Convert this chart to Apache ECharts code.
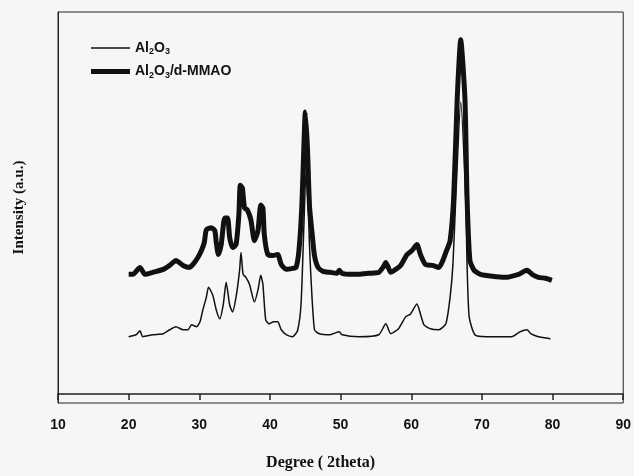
<!DOCTYPE html>
<html>
<head>
<meta charset="utf-8">
<script src="https://cdn.jsdelivr.net/npm/echarts@6/dist/echarts.min.js"></script>
<style>
  html, body { margin: 0; padding: 0; background: #f6f6f6; }
  #box { width: 634px; height: 476px; }
</style>
</head>
<body>
<div id="box"></div>
<script>
// 2theta (degree), intensity (a.u.)
let al2o3 = [
  [20.0,58],[21.1,60],[21.6,64],[22.0,58],[23.4,60],[24.9,61],[25.8,65],[26.7,68],[27.7,65],[28.4,65],
  [28.9,70],[29.6,68],[30.1,73],[30.5,85],[31.0,98],[31.3,108],[31.9,100],[32.4,85],[32.9,76],[33.4,91],
  [33.8,113],[34.3,90],[34.7,83],[35.2,98],[35.7,125],[35.9,143],[36.2,121],[36.6,118],[37.1,111],[37.8,93],
  [38.3,105],[38.7,120],[39.0,111],[39.4,75],[39.9,71],[40.5,73],[41.1,73],[41.6,65],[42.3,60],[43.2,58],
  [43.9,64],[44.4,91],[44.8,170],[45.1,225],[45.4,190],[45.6,150],[45.8,118],[46.3,65],[47.0,61],[48.5,60],
  [49.8,63],[50.2,60],[52.6,58],[55.4,60],[56.4,71],[57.1,61],[58.2,66],[59.2,78],[59.9,81],[60.8,91],
  [61.3,81],[61.8,70],[62.7,66],[63.9,65],[64.9,71],[65.5,98],[65.9,131],[66.3,198],[67.0,295],[67.7,198],
  [67.9,131],[68.2,78],[69.0,60],[70.6,58],[74.2,58],[75.4,63],[76.4,65],[76.9,61],[78.0,58],[79.7,56]
];
let al2o3Mmao = [
  [20.0,121],[20.6,121],[21.6,128],[22.3,121],[23.4,123],[24.9,126],[25.8,130],[26.7,135],[27.7,130],[28.6,128],
  [29.1,131],[29.8,138],[30.3,145],[30.7,153],[31.0,166],[31.7,168],[32.2,165],[32.4,153],[32.7,141],[33.1,151],
  [33.6,178],[34.0,178],[34.3,158],[34.7,148],[35.2,151],[35.6,181],[35.8,211],[36.1,208],[36.4,188],[36.8,186],
  [37.3,176],[37.8,155],[38.3,165],[38.7,191],[39.0,188],[39.2,161],[39.7,141],[40.4,140],[41.1,141],[41.6,131],
  [42.3,126],[43.2,127],[43.7,128],[44.1,145],[44.5,188],[44.8,250],[45.0,285],[45.3,250],[45.6,190],[46.0,160],
  [46.3,140],[46.8,128],[47.5,124],[48.5,123],[49.5,122],[49.8,125],[50.2,122],[51.5,121],[52.6,121],[54.0,122],
  [55.4,123],[56.0,128],[56.4,133],[56.8,127],[57.1,123],[57.8,126],[58.5,130],[59.4,141],[60.1,145],[60.8,151],
  [61.3,141],[62.0,131],[63.0,130],[63.9,128],[65.0,145],[65.5,155],[66.0,198],[66.5,298],[67.0,358],[67.6,298],
  [67.9,198],[68.3,135],[68.9,125],[69.8,121],[71.5,119],[73.3,118],[75.2,121],[76.0,124],[76.4,125],[76.8,123],
  [77.1,121],[78.0,118],[79.0,117],[79.9,115]
];
let seriesNames = ['Al2O3', 'Al2O3/d-MMAO'];
let xTicks = [10, 20, 30, 40, 50, 60, 70, 80, 90];

let box = document.getElementById('box');
let mychart = echarts.init(box);

let txt = { fontFamily: 'Liberation Sans, Arial', fontWeight: 'bold', fontSize: 14, color: '#111' };
let sub = { fontFamily: 'Liberation Sans, Arial', fontWeight: 'bold', fontSize: 9, color: '#111', padding: [8, 0, 0, 0] };

let options = {
  backgroundColor: '#f6f6f6',
  animation: false,
  grid: {
    left: 58, right: 9, top: 12, bottom: 69,
    show: true, borderColor: '#222', borderWidth: 1
  },
  legend: {
    orient: 'vertical',
    left: 86, top: 36,
    itemWidth: 39, itemHeight: 14, itemGap: 8,
    data: [
      { name: seriesNames[0], icon: 'path://M0,0 L40,0 L40,1.6 L0,1.6 Z' },
      { name: seriesNames[1], icon: 'path://M0,0 L40,0 L40,5 L0,5 Z' }
    ],
    formatter: function (name) {
      if (name === 'Al2O3') return '{t|Al}{s|2}{t|O}{s|3}';
      return '{t|Al}{s|2}{t|O}{s|3}{t|/d-MMAO}';
    },
    textStyle: { rich: { t: txt, s: sub } }
  },
  xAxis: {
    type: 'value', min: xTicks[0], max: xTicks[xTicks.length - 1], interval: 10,
    name: 'Degree ( 2theta)', nameLocation: 'middle', nameGap: 52,
    nameTextStyle: { fontFamily: 'Liberation Serif, Times New Roman', fontWeight: 'bold', fontSize: 16, color: '#111', padding: [0, 40, 0, 0] },
    axisLine: { lineStyle: { color: '#222', width: 1.5 } },
    axisTick: { show: true, length: 6, lineStyle: { color: '#222', width: 1.5 } },
    axisLabel: { fontFamily: 'Liberation Sans, Arial', fontWeight: 'bold', fontSize: 14, color: '#111', margin: 15 },
    splitLine: { show: false }
  },
  yAxis: {
    type: 'value', min: -9, max: 386,
    name: 'Intensity (a.u.)', nameLocation: 'middle', nameGap: 31,
    nameTextStyle: { fontFamily: 'Liberation Serif, Times New Roman', fontWeight: 'bold', fontSize: 15, color: '#111' },
    axisLine: { show: true, lineStyle: { color: '#222', width: 1 } },
    axisTick: { show: false },
    axisLabel: { show: false },
    splitLine: { show: false }
  },
  series: [
    {
      name: seriesNames[0], type: 'line', data: al2o3,
      symbol: 'none', smooth: 0.2,
      lineStyle: { color: '#111', width: 1.5 }, itemStyle: { color: '#111' }
    },
    {
      name: seriesNames[1], type: 'line', data: al2o3Mmao,
      symbol: 'none', smooth: 0.2,
      lineStyle: { color: '#111', width: 5 }, itemStyle: { color: '#111' }
    }
  ]
};
mychart.setOption(options);
</script>
</body>
</html>
